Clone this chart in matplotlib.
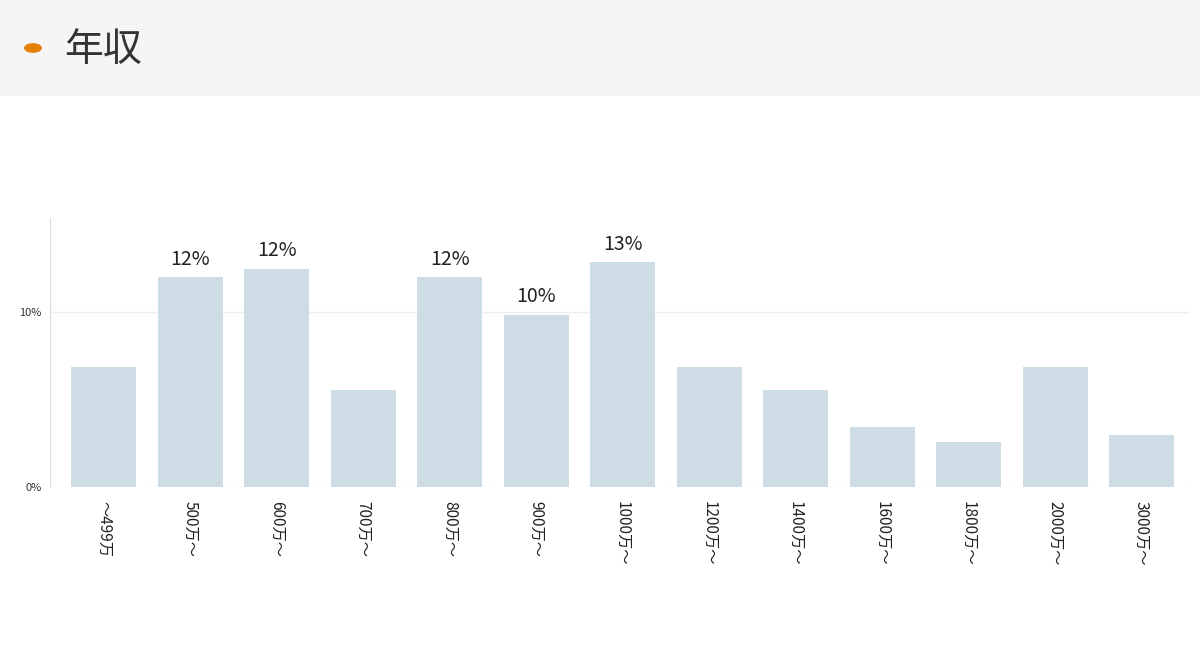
import matplotlib
matplotlib.use("Agg")
import matplotlib.pyplot as plt
from matplotlib.patches import Rectangle

plt.rcParams['font.family'] = ['Noto Sans CJK JP', 'DejaVu Sans']

categories = ["～499万", "500万～", "600万～", "700万～", "800万～", "900万～", "1000万～",
              "1200万～", "1400万～", "1600万～", "1800万～", "2000万～", "3000万～"]
values = [6.86, 12.0, 12.46, 5.54, 12.0, 9.83, 12.86, 6.86, 5.54, 3.43, 2.57, 6.86, 2.97]
labelled = {1: "12%", 2: "12%", 4: "12%", 5: "10%", 6: "13%"}

W, H = 1200, 654
fig = plt.figure(figsize=(W / 100, H / 100), dpi=100)
fig.patches.append(Rectangle((0, 1 - 96 / H), 1, 96 / H, transform=fig.transFigure,
                             facecolor="#f5f5f5", edgecolor="none", zorder=0))
fig.patches.append(plt.Circle((33 / W, 1 - 48 / H), 9 / W, transform=fig.transFigure,
                              facecolor="#e8800c", edgecolor="none"))
fig.text(64 / W, 1 - 50 / H, "年収", fontsize=28, color="#333333", va="center")

ax = fig.add_axes([50 / W, 1 - 487 / H, 1140 / W, (487 - 218) / H])
x = range(len(categories))
ax.bar(x, values, width=0.75, color="#cedce5", zorder=2)
for i, t in labelled.items():
    ax.text(i, values[i] + 0.45, t, ha="center", va="bottom", fontsize=14, color="#222222")
ax.set_xlim(-0.62, len(categories) - 0.44)
ax.set_ylim(0, 15.4)
ax.set_yticks([0, 10])
ax.set_yticklabels(["0%", "10%"], fontsize=8, color="#333333")
ax.axhline(10, color="#eeeeee", lw=1, zorder=1)
ax.axhline(0, color="#cccccc", lw=0.8, ls=(0, (2, 2)), zorder=3)
ax.set_xticks(list(x))
ax.set_xticklabels(categories, rotation=-90, fontsize=11, color="#222222", va="top")
ax.tick_params(length=0, pad=6)
ax.tick_params(axis="x", pad=10)
for s in ["top", "right", "bottom"]:
    ax.spines[s].set_visible(False)
ax.spines["left"].set_color("#dddddd")
ax.set_facecolor("none")

fig.savefig("out.png", dpi=100)
